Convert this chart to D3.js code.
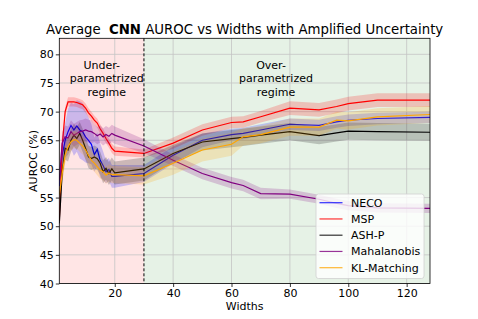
<!DOCTYPE html>
<html><head><meta charset="utf-8">
<script src="https://cdn.jsdelivr.net/npm/d3@7"></script>
<style>body{margin:0;background:#fff}svg{display:block;font-family:"DejaVu Sans",sans-serif}</style>
</head><body>
<svg id="c" width="478" height="319"></svg>
<script>
const widths = [1,2,3,4,5,6,7,8,9,10,11,12,13,14,15,16,17,18,19,20,30,40,50,60,64,70,80,90,96,100,110,128];
const neco = [57,62.4,65.0,66.5,67.6,66.8,67.5,66.8,66.5,65.6,65.0,64.3,62.5,63.4,61.5,60.6,59.5,59.9,58.7,58.7,59.2,62.4,65.0,66.0,66.2,66.8,67.8,67.6,68.2,68.5,68.8,69.0];
const msp  = [51,64,70,71.7,71.7,71.7,71.6,71.4,71.2,70.6,69.8,69.2,68.5,68.0,67.0,66.2,65.3,64.5,63.6,63.1,62.7,64.5,66.8,68.1,68.2,69.1,70.6,70.3,70.9,71.4,72.0,72.0];
const ash  = [50.5,59.5,63.6,63.3,65.0,65.9,65.3,66.2,65.0,63.6,62.1,61.8,62.1,61.8,61.0,59.5,60.1,59.2,60.0,59.3,60.0,62.7,64.7,65.3,65.5,65.9,66.5,65.8,66.3,66.6,66.5,66.4];
const maha = [58,64.5,65.6,65.4,66.5,65.9,66.2,66.5,66.6,66.8,66.6,66.5,66.2,65.8,66.1,65.6,66.0,65.7,66.2,65.9,64.0,61.5,59.2,57.6,57.1,55.7,55.6,54.7,54.0,53.6,53.2,53.1];
const kl   = [55.5,59.2,62.4,63.9,64.7,65.1,65.0,64.5,64.0,63.3,62.4,61.5,61.0,60.4,59.8,59.5,58.9,59.3,59.0,59.0,58.8,61.0,63.3,64.3,65.6,66.0,67.3,67.3,68.5,68.4,69.1,69.5];
const necoSd = [3,3,3,4,4,4.5,4.5,5,5,4.5,4,3.5,3,3,3,2.5,2,2,2,2,1.5,1.5,1.2,1,1,1,1,1,1,1,1,1];
const mspSd  = [1,1,0.8,0.8,0.8,0.8,0.8,0.8,0.8,0.8,0.8,0.8,0.8,0.8,0.8,0.8,0.8,0.8,0.8,0.8,0.7,1,1,1,1,1,1.2,1.2,1.2,1.2,1.2,1.2];
const ashSd  = [2,2,2,2,2,2,2,2,2,2,2,2,2,2,2,2,2,2,2,2,2,1.5,1.5,1.5,1.5,1.5,1.5,1.5,1.5,1.5,1.5,1.5];
const mahaSd = [2,2,2,2,2,2,2,2,2,2,2,2,1.5,1.5,1.5,1.5,1.5,1.5,1.5,1.5,1.2,1,1,1,1,1,0.8,0.8,0.8,0.8,0.8,0.8];
const klSd   = [1.5,1.5,1.5,1.5,1.5,1.5,1.5,1.5,1.5,1.5,1.5,1.5,1.5,1.5,1.5,1.5,1.5,1.5,1.5,1.5,1.5,2,2,2,1.5,1.5,1.5,1.5,1.5,1.5,1.5,1.5];
const seriesNames = ["NECO","MSP","ASH-P","Mahalanobis","KL-Matching"];
const seriesColors = ["#0000ff","#ff0000","#000000","#800080","#ffa500"];
const seriesValues = [neco,msp,ash,maha,kl];
const seriesSd = [necoSd,mspSd,ashSd,mahaSd,klSd];
const xTicks = [20,40,60,80,100,120];
const yTicks = [40,45,50,55,60,65,70,75,80];
const regimeSplit = 30;

const svg = d3.select("#c");
const L=59.3,R=430,T=38.3,B=283.5;
const x = d3.scaleLinear().domain([1,128]).range([L,R]);
const y = d3.scaleLinear().domain([40,82.8]).range([B,T]);

// regimes
svg.append("rect").attr("x",L).attr("y",T).attr("width",x(regimeSplit)-L).attr("height",B-T).attr("fill","#ffe5e5");
svg.append("rect").attr("x",x(regimeSplit)).attr("y",T).attr("width",R-x(regimeSplit)).attr("height",B-T).attr("fill","#e6f2e6");

// grid
const g = svg.append("g");
g.selectAll(".gx").data(xTicks).join("line").attr("x1",d=>x(d)).attr("x2",d=>x(d)).attr("y1",T).attr("y2",B).attr("stroke","#c4c4c4").attr("stroke-width",0.8);
g.selectAll(".gy").data(yTicks).join("line").attr("y1",d=>y(d)).attr("y2",d=>y(d)).attr("x1",L).attr("x2",R).attr("stroke","#c4c4c4").attr("stroke-width",0.8);

svg.append("clipPath").attr("id","pc").append("rect").attr("x",L).attr("y",T).attr("width",R-L).attr("height",B-T);
const plot = svg.append("g").attr("clip-path","url(#pc)");

seriesValues.forEach((vals,i)=>{
  const sd = seriesSd[i];
  const pts = widths.map((w,j)=>({w,v:vals[j],s:sd[j]}));
  plot.append("path").datum(pts)
    .attr("d",d3.area().x(d=>x(d.w)).y0(d=>y(d.v-d.s)).y1(d=>y(d.v+d.s)))
    .attr("fill",seriesColors[i]).attr("fill-opacity",0.2);
  plot.append("path").datum(pts)
    .attr("d",d3.line().x(d=>x(d.w)).y(d=>y(d.v)))
    .attr("fill","none").attr("stroke",seriesColors[i]).attr("stroke-width",1.2);
});

// dashed split
svg.append("line").attr("x1",x(regimeSplit)).attr("x2",x(regimeSplit)).attr("y1",T).attr("y2",B)
  .attr("stroke","#000").attr("stroke-width",1).attr("stroke-dasharray","3,2");

// annotations
const ann = (cx,lines)=>{
  const t = svg.append("text").attr("text-anchor","middle").attr("font-size",11).attr("fill","#000");
  lines.forEach((s,k)=>t.append("tspan").attr("x",k===0?cx-5:cx).attr("y",69+k*13.3).text(s));
};
ann(106.7,["Under-","parametrized","regime"]);
ann(276,["Over-","parametrized","regime"]);

// axes
const xa = svg.append("g").attr("transform",`translate(0,${B})`).call(d3.axisBottom(x).tickValues(xTicks).tickSize(3.5).tickPadding(2));
const ya = svg.append("g").attr("transform",`translate(${L},0)`).call(d3.axisLeft(y).tickValues(yTicks).tickSize(3.5).tickPadding(2));
[xa,ya].forEach(a=>{a.select(".domain").remove();a.selectAll("text").attr("font-size",11).attr("font-family","DejaVu Sans").attr("fill","#000");a.selectAll("line").attr("stroke","#000").attr("stroke-width",0.8);});
svg.append("rect").attr("x",L).attr("y",T).attr("width",R-L).attr("height",B-T).attr("fill","none").attr("stroke","#000").attr("stroke-width",0.8);

svg.append("text").attr("x",(L+R)/2).attr("y",309.5).attr("text-anchor","middle").attr("font-size",11).text("Widths");
svg.append("text").attr("transform",`translate(37,${(T+B)/2}) rotate(-90)`).attr("text-anchor","middle").attr("font-size",11).text("AUROC (%)");

const title = svg.append("text").attr("x",(L+R)/2).attr("y",34).attr("text-anchor","middle").attr("font-size",13.3);
title.append("tspan").text("Average ");
title.append("tspan").attr("dx",4).attr("font-weight","bold").text("CNN");
title.append("tspan").text(" AUROC vs Widths with Amplified Uncertainty");

// legend
const lg = svg.append("g");
lg.append("rect").attr("x",316).attr("y",194).attr("width",108).attr("height",84.5).attr("rx",2.5)
  .attr("fill","#fff").attr("fill-opacity",0.8).attr("stroke","#d0d0d0").attr("stroke-width",0.8);
seriesNames.forEach((n,i)=>{
  const yy = 202.7+i*16.25;
  lg.append("line").attr("x1",319.5).attr("x2",342.5).attr("y1",yy).attr("y2",yy).attr("stroke",seriesColors[i]).attr("stroke-width",1.2).attr("stroke-opacity",0.8);
  lg.append("text").attr("x",351).attr("y",yy+4).attr("font-size",11).text(n);
});
</script>
</body></html>
